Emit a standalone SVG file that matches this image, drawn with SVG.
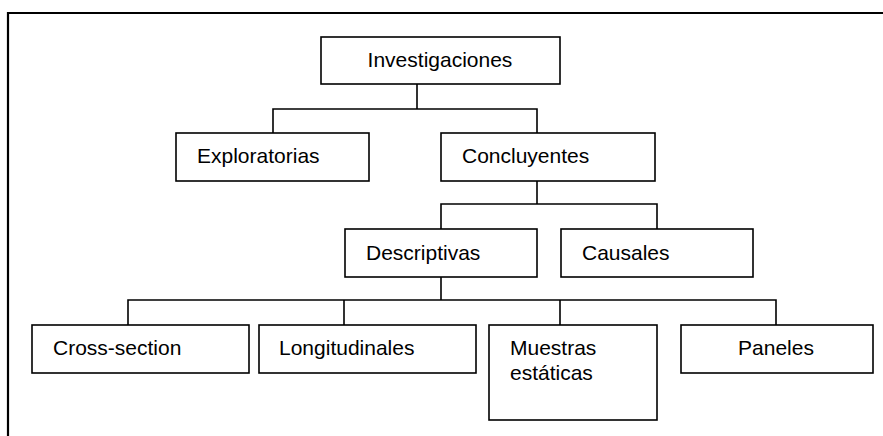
<svg xmlns="http://www.w3.org/2000/svg" width="883" height="436" viewBox="0 0 883 436">
<style>
.box{fill:#fff;stroke:#000;stroke-width:1.6}
.ln{fill:none;stroke:#000;stroke-width:1.6}
.frame{fill:none;stroke:#000;stroke-width:2.2}
text{font-family:"Liberation Sans",Arial,sans-serif;font-size:21px;fill:#000}
.c{text-anchor:middle}
</style>
<rect width="883" height="436" fill="#fff"/>
<path class="frame" d="M8,436 V13 H884"/>
<g id="connectors">
<path class="ln" d="M417,84 V109 M273,133 V109 H537 V133"/>
<path class="ln" d="M537,181 V204 M441,229 V204 H657 V229"/>
<path class="ln" d="M441,277 V300 M128,325 V300 H776 V325 M344,300 V325 M560,300 V325"/>
</g>
<g id="investigaciones"><rect class="box" x="321" y="37" width="239" height="47"/><text class="c" x="440" y="67">Investigaciones</text></g>
<g id="exploratorias"><rect class="box" x="176" y="133" width="193" height="48"/><text x="197" y="163">Exploratorias</text></g>
<g id="concluyentes"><rect class="box" x="441" y="133" width="214" height="48"/><text x="462" y="163">Concluyentes</text></g>
<g id="descriptivas"><rect class="box" x="345" y="229" width="192" height="48"/><text x="366" y="260">Descriptivas</text></g>
<g id="causales"><rect class="box" x="561" y="229" width="192" height="48"/><text x="582" y="260">Causales</text></g>
<g id="cross-section"><rect class="box" x="32" y="325" width="217" height="48"/><text x="53" y="355">Cross-section</text></g>
<g id="longitudinales"><rect class="box" x="259" y="325" width="217" height="48"/><text x="279" y="355">Longitudinales</text></g>
<g id="muestras"><rect class="box" x="489" y="325" width="168" height="95"/><text x="510" y="355">Muestras</text><text x="510" y="380">estáticas</text></g>
<g id="paneles"><rect class="box" x="681" y="325" width="192" height="48"/><text class="c" x="776" y="355">Paneles</text></g>
</svg>
